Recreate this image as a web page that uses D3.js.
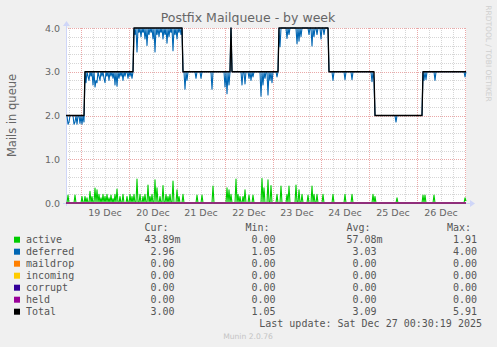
<!DOCTYPE html>
<html>
<head>
<meta charset="utf-8">
<script src="https://cdn.jsdelivr.net/npm/d3@7"></script>
<style>
body { margin: 0; background: #f0f0f0; }
svg { display: block; font-family: "DejaVu Sans", sans-serif; }
.mono { font-family: "DejaVu Sans Mono", monospace; font-size: 10px; fill: #555; }
</style>
</head>
<body>
<svg id="chart" width="497" height="347"></svg>
<script>
// hour 0 = 18 Dec 17:00, one sample every 30 minutes
const startTime = new Date(2025, 11, 18, 17, 0)

const dayLabels = ['19 Dec', '20 Dec', '21 Dec', '22 Dec', '23 Dec', '24 Dec', '25 Dec', '26 Dec']
const yTicks = [0, 1, 2, 3, 4]

// [hour the level starts, level]
const totalSteps = [[-0.5, 2], [9, 3], [33.5, 4], [58, 3], [106, 4], [131, 3], [154, 2], [178, 3]]
const totalPeaks = [[82, 4.0]]

// deferred dips below the level: [hour, value]
const deferredDips = [
    [0.5, 1.8], [1, 1.85], [3.5, 1.8], [4, 1.85], [5, 1.8], [6.5, 1.82], [7.5, 1.8], [8.5, 1.85],
    [9.5, 2.75], [10.5, 2.9], [11, 2.8], [12, 2.9], [13, 2.7], [14, 2.65], [14.5, 2.8], [15, 2.75],
    [16, 2.9], [16.5, 2.8], [17.5, 2.9], [18.5, 2.85], [19, 2.75], [20, 2.9], [21, 2.8], [22, 2.9],
    [23, 2.85], [24, 2.7], [25, 2.67], [26, 2.85], [27, 2.9], [28, 2.8], [29, 2.9], [30.5, 2.85],
    [31.5, 2.9], [32.5, 2.85],
    [34, 3.85], [35, 3.45], [36, 3.9], [37, 3.8], [38, 3.9], [39, 3.75], [40, 3.6], [41, 3.85],
    [42, 3.9], [43, 3.75], [44, 3.45], [45, 3.85], [46, 3.8], [47, 3.9], [48, 3.75], [49, 3.85],
    [50, 3.65], [51, 3.8], [52, 3.9], [53, 3.48], [54, 3.85], [55, 3.75], [56, 3.9], [57, 3.85],
    [59, 2.6], [60, 2.8], [64.5, 2.85], [67, 2.85], [72.5, 2.6], [79, 2.65], [80, 2.5], [81, 2.7],
    [87.5, 2.7], [89, 2.72], [91, 2.85], [92, 2.8], [93, 2.88], [97, 2.44], [98, 2.7], [99, 2.85],
    [100.5, 2.47], [101.5, 2.8], [102.5, 2.75], [105, 2.88],
    [106.5, 3.57], [110, 3.76], [111, 3.85], [115, 3.64], [116, 3.7], [117, 3.8], [121, 3.85],
    [122.5, 3.59], [123.5, 3.8], [125, 3.85], [127, 3.75], [128.5, 3.85],
    [133, 2.8], [139, 2.82], [142.5, 2.82], [152.5, 2.77], [153.5, 2.8],
    [164.5, 1.85],
    [178.5, 2.8], [179.5, 2.82], [184, 2.8], [199, 2.88]
]
const deferredPeaks = [[82, 4.0]]

// active spikes above zero: [hour, value]
const activeSpikes = [
    [0.5, 0.18], [4, 0.18], [7.5, 0.15], [9, 0.15], [10, 0.12], [11.5, 0.27], [12.5, 0.15], [14, 0.34],
    [15, 0.3], [16, 0.2], [17, 0.12], [18, 0.2], [19, 0.15], [20, 0.2], [21, 0.12], [22, 0.18],
    [23, 0.1], [24, 0.2], [25, 0.32], [26.5, 0.15], [28, 0.2], [30, 0.15], [31.5, 0.2], [32.5, 0.15],
    [33.5, 0.2], [35, 0.55], [36.5, 0.2], [38, 0.15], [39, 0.2], [40.5, 0.41], [41.5, 0.15], [42.5, 0.2],
    [44, 0.53], [45, 0.35], [46.5, 0.15], [48, 0.4], [49.5, 0.2], [50.5, 0.15], [51.5, 0.2], [53, 0.5],
    [55, 0.3], [56, 0.15], [58, 0.2], [65, 0.18], [67.5, 0.18], [73, 0.39], [80, 0.35], [81, 0.3],
    [82, 0.2], [84.5, 0.55], [85.5, 0.2], [86.5, 0.15], [88, 0.15], [89, 0.3], [91, 0.18], [93, 0.18],
    [97.5, 0.56], [98.5, 0.35], [100.5, 0.53], [102, 0.4], [105, 0.2], [107, 0.39], [110, 0.2], [111, 0.39],
    [114.5, 0.41], [116, 0.3], [117.5, 0.2], [120.5, 0.18], [122.5, 0.39], [123.5, 0.2], [125, 0.2], [128, 0.2],
    [133, 0.2], [139, 0.2], [142.5, 0.2], [153, 0.2], [154, 0.15], [165, 0.12], [178, 0.18], [179, 0.18],
    [183.5, 0.18], [199, 0.12], [199.5, 0.044]
]

const seriesNames = ['active', 'deferred', 'maildrop', 'incoming', 'corrupt', 'held', 'Total']
const seriesColors = ['#00cc00', '#0066b3', '#ff8000', '#ffcc00', '#330099', '#990099', '#000000']
const curValues = [0.04389, 2.96, 0, 0, 0, 0, 3.00]
const minValues = [0, 1.05, 0, 0, 0, 0, 1.05]
const avgValues = [0.05708, 3.03, 0, 0, 0, 0, 3.09]
const maxValues = [1.91, 4.00, 0, 0, 0, 0, 5.91]

const plot = { left: 66, right: 466, top: 28, bottom: 203 }

const svg = d3.select('#chart')
const toDate = h => new Date(startTime.getTime() + h * 3600e3)

const x = d3.scaleTime()
    .domain([toDate(-0.5), toDate(199.5)])
    .range([plot.left, plot.right])
const y = d3.scaleLinear()
    .domain([0, 4])
    .range([plot.bottom, plot.top])

// canvas
svg.append('rect')
    .attr('x', plot.left).attr('y', plot.top)
    .attr('width', plot.right - plot.left).attr('height', plot.bottom - plot.top)
    .attr('fill', '#ffffff')

// grid
const grid = svg.append('g').attr('stroke-width', 1).attr('stroke-dasharray', '1,1').attr('fill', 'none')
const minorTimes = d3.timeHour.every(6).range(x.domain()[0], x.domain()[1])
grid.selectAll('.vminor')
    .data(minorTimes.filter(d => d.getHours() != 0))
    .enter().append('line')
    .attr('x1', d => Math.round(x(d)) + 0.5).attr('x2', d => Math.round(x(d)) + 0.5)
    .attr('y1', plot.top).attr('y2', plot.bottom)
    .attr('stroke', '#d6d6d6')
grid.selectAll('.hminor')
    .data(d3.range(0, 4.01, 0.2).filter(v => Math.abs(v - Math.round(v)) > 0.01))
    .enter().append('line')
    .attr('y1', d => Math.round(y(d)) + 0.5).attr('y2', d => Math.round(y(d)) + 0.5)
    .attr('x1', plot.left).attr('x2', plot.right)
    .attr('stroke', '#d6d6d6')
grid.selectAll('.vmajor')
    .data(d3.timeDay.range(x.domain()[0], x.domain()[1]))
    .enter().append('line')
    .attr('x1', d => Math.round(x(d)) + 0.5).attr('x2', d => Math.round(x(d)) + 0.5)
    .attr('y1', plot.top).attr('y2', plot.bottom)
    .attr('stroke', '#eaa8a8')
grid.selectAll('.hmajor')
    .data(yTicks)
    .enter().append('line')
    .attr('y1', d => Math.round(y(d)) + 0.5).attr('y2', d => Math.round(y(d)) + 0.5)
    .attr('x1', plot.left).attr('x2', plot.right)
    .attr('stroke', '#eaa8a8')

// axes
const axisColor = '#cfd6f8'
svg.append('line')
    .attr('x1', plot.left - 3).attr('x2', plot.right + 5)
    .attr('y1', plot.bottom + 0.5).attr('y2', plot.bottom + 0.5)
    .attr('stroke', axisColor)
svg.append('path')
    .attr('d', `M${plot.right + 4},${plot.bottom - 3} L${plot.right + 9},${plot.bottom + 0.5} L${plot.right + 4},${plot.bottom + 4} Z`)
    .attr('fill', axisColor)
svg.append('line')
    .attr('x1', plot.left + 0.5).attr('x2', plot.left + 0.5)
    .attr('y1', plot.bottom + 3).attr('y2', plot.top - 3)
    .attr('stroke', axisColor)
svg.append('path')
    .attr('d', `M${plot.left - 3},${plot.top - 2} L${plot.left + 0.5},${plot.top - 7} L${plot.left + 4},${plot.top - 2} Z`)
    .attr('fill', axisColor)

// build series from the level steps plus read-off dips and spikes
const sampleHours = d3.range(401).map(i => -0.5 + i * 0.5)
const levelAt = h => {
    let v = totalSteps[0][1]
    totalSteps.forEach(s => { if (h >= s[0]) v = s[1] })
    return v
}
const dipMap = new Map(deferredDips.concat(deferredPeaks).map(d => [d[0], d[1]]))
const totalPeakMap = new Map(totalPeaks.map(d => [d[0], d[1]]))
const activeMap = new Map(activeSpikes.map(d => [d[0], d[1]]))

const series = [
    sampleHours.map(h => ({ h, v: activeMap.has(h) ? activeMap.get(h) : 0 })),
    sampleHours.map(h => ({ h, v: dipMap.has(h) ? dipMap.get(h) : levelAt(h) })),
    sampleHours.map(h => ({ h, v: 0 })),
    sampleHours.map(h => ({ h, v: 0 })),
    sampleHours.map(h => ({ h, v: 0 })),
    sampleHours.map(h => ({ h, v: 0 })),
    sampleHours.map(h => ({ h, v: totalPeakMap.has(h) ? totalPeakMap.get(h) : levelAt(h) }))
]

svg.append('clipPath').attr('id', 'clip')
  .append('rect')
    .attr('x', plot.left).attr('y', plot.top - 1)
    .attr('width', plot.right - plot.left + 1).attr('height', plot.bottom - plot.top + 2)

const line = d3.line()
    .x(d => x(toDate(d.h)))
    .y(d => y(d.v))

svg.append('g').attr('clip-path', 'url(#clip)')
  .selectAll('path')
    .data(series)
    .enter().append('path')
    .attr('d', line)
    .attr('fill', 'none')
    .attr('stroke', (d, i) => seriesColors[i])
    .attr('stroke-width', (d, i) => i == 6 ? 1.3 : 1.1)
    .attr('stroke-linejoin', 'round')

// tick labels
svg.append('g')
  .selectAll('text')
    .data(yTicks)
    .enter().append('text')
    .attr('x', 60).attr('y', d => y(d) + 3.5)
    .attr('text-anchor', 'end')
    .attr('font-size', 9.5).attr('fill', '#666')
    .text(d => d.toFixed(1))

svg.append('g')
  .selectAll('text')
    .data(dayLabels)
    .enter().append('text')
    .attr('x', (d, i) => x(toDate(19 + i * 24)))
    .attr('y', 216)
    .attr('text-anchor', 'middle')
    .attr('font-size', 9.5).attr('fill', '#666')
    .text(d => d)

// titles
svg.append('text')
    .attr('x', 248).attr('y', 22)
    .attr('text-anchor', 'middle')
    .attr('font-size', 12.5).attr('fill', '#666')
    .text('Postfix Mailqueue - by week')
svg.append('text')
    .attr('transform', 'translate(16,115.5) rotate(-90)')
    .attr('text-anchor', 'middle')
    .attr('font-size', 11.5).attr('fill', '#666')
    .text('Mails in queue')
svg.append('text')
    .attr('transform', 'translate(485.5,53.5) rotate(90)')
    .attr('text-anchor', 'middle')
    .attr('font-size', 7.5).attr('fill', '#cfcfcf')
    .text('RRDTOOL / TOBI OETIKER')

// legend
const fmt = v => (v != 0 && Math.abs(v) < 1) ? [(v * 1000).toFixed(2), 'm'] : [v.toFixed(2), '']
const columns = [
    { head: 'Cur:', end: 174.5, values: curValues },
    { head: 'Min:', end: 275.5, values: minValues },
    { head: 'Avg:', end: 376.5, values: avgValues },
    { head: 'Max:', end: 477, values: maxValues }
]
const legend = svg.append('g')
legend.selectAll('.head')
    .data(columns)
    .enter().append('text')
    .attr('class', 'mono')
    .attr('x', d => d.end - 6).attr('y', 231)
    .attr('text-anchor', 'end')
    .text(d => d.head)

const rows = legend.selectAll('.row')
    .data(seriesNames)
    .enter().append('g')
    .attr('transform', (d, i) => `translate(0,${239.7 + i * 12})`)
rows.append('rect')
    .attr('x', 14).attr('y', -3).attr('width', 6).attr('height', 6)
    .attr('fill', (d, i) => seriesColors[i])
rows.append('text')
    .attr('class', 'mono')
    .attr('x', 26).attr('y', 3.5)
    .text(d => d)
columns.forEach(col => {
    rows.append('text')
        .attr('class', 'mono')
        .attr('x', col.end).attr('y', 3.5)
        .attr('text-anchor', 'end')
        .text((d, i) => fmt(col.values[i])[0])
    rows.append('text')
        .attr('class', 'mono')
        .attr('x', col.end).attr('y', 3.5)
        .text((d, i) => fmt(col.values[i])[1])
})

legend.append('text')
    .attr('class', 'mono')
    .attr('x', 482).attr('y', 327)
    .attr('text-anchor', 'end')
    .text('Last update: Sat Dec 27 00:30:19 2025')
svg.append('text')
    .attr('x', 248).attr('y', 339)
    .attr('text-anchor', 'middle')
    .attr('font-size', 7.6).attr('fill', '#c4c4c4')
    .text('Munin 2.0.76')
</script>
</body>
</html>
